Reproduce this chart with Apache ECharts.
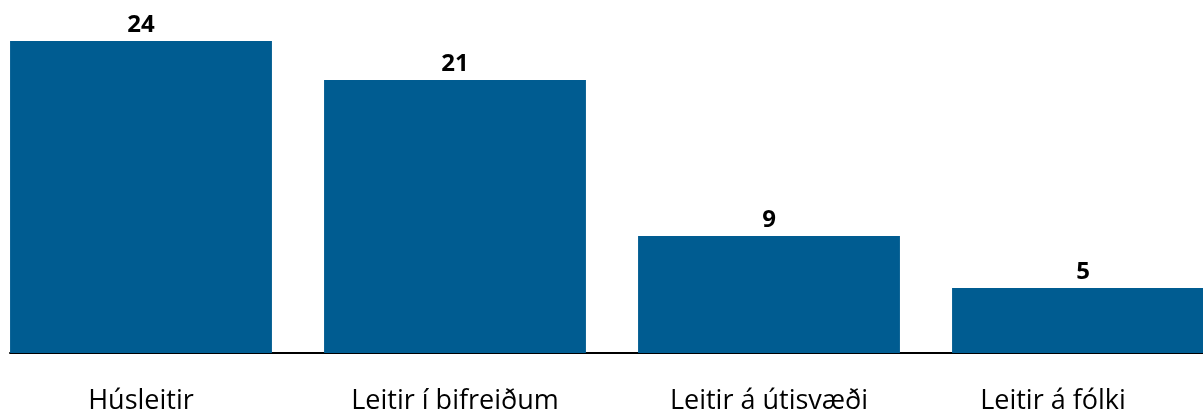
<!DOCTYPE html>
<html><head><meta charset="utf-8">
<script src="https://cdn.jsdelivr.net/npm/echarts@6/dist/echarts.min.js"></script>
<style>html,body{margin:0;padding:0;background:#fff}#c{width:1203px;height:417px}</style>
</head><body><div id="c"></div>
<script>
const categories = ['Húsleitir', 'Leitir í bifreiðum', 'Leitir á útisvæði', 'Leitir á fólki'];
const values = [24, 21, 9, 5];

const chart = echarts.init(document.getElementById('c'), null, {renderer: 'canvas'});
const FONT = '"Open Sans", sans-serif';
chart.setOption({
  animation: false,
  grid: [
    {left: -16, width: 1256, top: 41, bottom: 64, outerBoundsMode: 'none', containLabel: false},
    {left: 10, right: 0, top: 41, bottom: 64, outerBoundsMode: 'none', containLabel: false}
  ],
  xAxis: [{
    type: 'category',
    gridIndex: 0,
    data: categories.map((c, i) => i === categories.length - 1 ? {value: c, textStyle: {padding: [0, 60, 0, 0]}} : c),
    axisLine: {show: false},
    axisTick: {show: false},
    axisLabel: {color: '#000', fontFamily: FONT, fontSize: 27, margin: 35, interval: 0, hideOverlap: false}
  }, {
    type: 'value', gridIndex: 1, min: 0, max: 1,
    axisLine: {show: true, lineStyle: {color: '#000', width: 2}},
    axisTick: {show: false}, axisLabel: {show: false}, splitLine: {show: false}
  }],
  yAxis: [{
    type: 'value', gridIndex: 0, min: 0, max: 24, show: false, splitLine: {show: false}
  }, {
    type: 'value', gridIndex: 1, min: 0, max: 1, show: false, splitLine: {show: false}
  }],
  series: [{
    type: 'bar',
    xAxisIndex: 0, yAxisIndex: 0,
    data: values,
    barCategoryGap: '16.6%',
    itemStyle: {color: '#005C91'},
    label: {show: true, position: 'top', distance: 4, color: '#000', fontFamily: FONT, fontWeight: 'bold', fontSize: 24}
  }]
});
</script></body></html>
